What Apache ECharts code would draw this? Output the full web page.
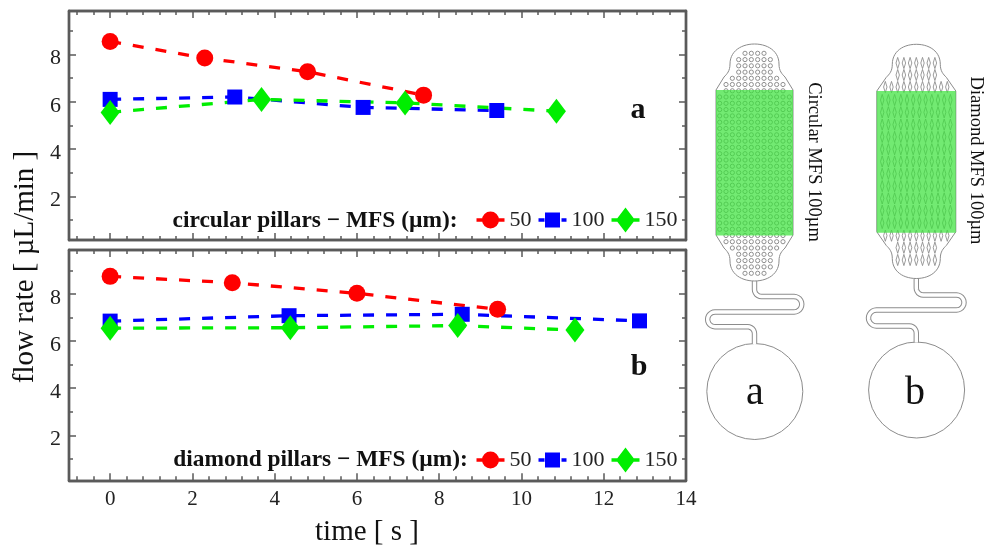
<!DOCTYPE html>
<html><head><meta charset="utf-8">
<style>html,body{margin:0;padding:0;background:#fff}#c{width:985px;height:547px}</style>
<script src="https://cdn.jsdelivr.net/npm/echarts@6/dist/echarts.min.js"></script>
</head><body><div id="c"></div>
<script>
const xMajor = [0, 2, 4, 6, 8, 10, 12, 14];
const xMinor = [-0.8, -0.4, 0.4, 0.8, 1.2, 1.6, 2.4, 2.8, 3.2, 3.6, 4.4, 4.8, 5.2, 5.6, 6.4, 6.8, 7.2, 7.6, 8.4, 8.8, 9.2, 9.6, 10.4, 10.8, 11.2, 11.6, 12.4, 12.8, 13.2, 13.6];
const yMajor = [2, 4, 6, 8];
const yMinor = [1, 3, 5, 7, 9];

const legendNames = ['50', '100', '150'];
const circular50 = [[0, 8.55], [2.3, 7.85], [4.8, 7.27], [7.62, 6.28]];
const circular100 = [[0, 6.1], [3.03, 6.2], [6.15, 5.76], [9.4, 5.63]];
const circular150 = [[0, 5.55], [3.68, 6.1], [7.17, 5.95], [10.85, 5.6]];
const diamond50 = [[0, 8.75], [2.97, 8.48], [6.0, 8.03], [9.42, 7.35]];
const diamond100 = [[0, 6.85], [4.35, 7.08], [8.56, 7.14], [12.87, 6.86]];
const diamond150 = [[0, 6.55], [4.38, 6.57], [8.45, 6.66], [11.3, 6.47]];

const SERIF = '"Liberation Serif","Times New Roman",serif';
const AX = '#5a5a5a';
const GRAY = '#8c8c8c';

function xAxes(gridIndex, withLabels, min, max) {
  const one = (position, vals, len, labels) => ({
    type: 'value', gridIndex, position, min, max,
    splitLine: { show: false },
    axisLine: { show: true, onZero: false, lineStyle: { color: AX, width: 2.4 } },
    axisTick: { show: true, inside: true, customValues: vals, length: len, lineStyle: { color: AX, width: 1.5 } },
    axisLabel: labels
      ? { show: true, customValues: xMajor, margin: 9, color: '#222', fontFamily: SERIF, fontSize: 21 }
      : { show: false }
  });
  return [one('bottom', xMajor, 7, withLabels), one('top', xMajor, 7, false),
          one('bottom', xMinor, 4, false), one('top', xMinor, 4, false)];
}
function yAxes(gridIndex, min, max) {
  const one = (position, vals, len, labels) => ({
    type: 'value', gridIndex, position, min, max,
    splitLine: { show: false },
    axisLine: { show: true, onZero: false, lineStyle: { color: AX, width: 2.4 } },
    axisTick: { show: true, inside: true, customValues: vals, length: len, lineStyle: { color: AX, width: 1.5 } },
    axisLabel: labels
      ? { show: true, customValues: yMajor, margin: 8, formatter: '{n|{value}}',
          rich: { n: { color: '#222', fontFamily: SERIF, fontSize: 22, padding: [8, 0, 0, 0] } } }
      : { show: false }
  });
  return [one('left', yMajor, 7, true), one('right', yMajor, 7, false),
          one('left', yMinor, 4, false), one('right', yMinor, 4, false)];
}

const X_MIN = -1, X_MAX = 14;
const xAxis = [...xAxes(0, false, X_MIN, X_MAX), ...xAxes(1, true, X_MIN, X_MAX)];
const yAxis = [...yAxes(0, 0.15, 9.84), ...yAxes(1, 0.09, 9.87)];

function lineSeries(name, data, color, symbol, size, panel) {
  return {
    type: 'line', name, data, symbol, symbolSize: size,
    xAxisIndex: panel * 4, yAxisIndex: panel * 4,
    itemStyle: { color },
    lineStyle: { color, width: 3.3, type: [11, 12] },
    animation: false, silent: true
  };
}
const series = [
  lineSeries('50', circular50, '#ff0000', 'circle', 17, 0),
  lineSeries('100', circular100, '#0000ff', 'rect', 15, 0),
  lineSeries('150', circular150, '#00ee00', 'diamond', [19, 25], 0),
  lineSeries('50', diamond50, '#ff0000', 'circle', 17, 1),
  lineSeries('100', diamond100, '#0000ff', 'rect', 15, 1),
  lineSeries('150', diamond150, '#00ee00', 'diamond', [19, 25], 1)
];

// legend keys: line + marker in a 28x25 box (corner points fix the path's bounding box)
const BOX = 'M0 0L0 0.01L0.01 0Z M28 25L28 24.99L27.99 25Z ';
const STUBS = 'M0 10.85H7V14.15H0Z M21 10.85H28V14.15H21Z ';
const legendIcons = [
  'path://' + BOX + STUBS + 'M5.5 12.5A8.5 8.5 0 1 1 22.5 12.5A8.5 8.5 0 1 1 5.5 12.5Z',
  'path://' + BOX + 'M0 10.85H6V14.15H0Z M23 10.85H28V14.15H23Z M6.5 5H21.5V20H6.5Z',
  'path://' + BOX + STUBS + 'M4.5 12.5L14 0L23.5 12.5L14 25Z'
];
function legendAt(top) {
  return {
    left: 476.5, top, padding: 0, orient: 'horizontal',
    data: legendNames.map((name, i) => ({ name, icon: legendIcons[i] })),
    itemWidth: 28, itemHeight: 25, itemGap: 7,
    selectedMode: false, inactiveColor: '#000',
    textStyle: { fontFamily: SERIF, fontSize: 22, color: '#222' }
  };
}

/* ---------- device schematics, drawn as an illustration ---------- */
function bez(p0, p1, p2, p3, n) {
  const out = [];
  for (let i = 1; i <= n; i++) {
    const t = i / n, u = 1 - t;
    out.push([
      u*u*u*p0[0] + 3*u*u*t*p1[0] + 3*u*t*t*p2[0] + t*t*t*p3[0],
      u*u*u*p0[1] + 3*u*u*t*p1[1] + 3*u*t*t*p2[1] + t*t*t*p3[1]
    ]);
  }
  return out;
}
function arcPts(cx, cy, r, a0, a1, n) {
  const out = [];
  for (let i = 0; i <= n; i++) {
    const a = (a0 + (a1 - a0) * i / n) * Math.PI / 180;
    out.push([cx + r * Math.cos(a), cy + r * Math.sin(a)]);
  }
  return out;
}
function outline(cx, top, bottom, greenTop, greenBottom, hw, hb) {
  const half = [[0, top]];
  half.push(...bez([0, top], [13, top], [hb, top + 7], [hb, top + 20], 14));
  half.push(...bez([hb, top + 20], [hb, top + 27], [hb + 3, top + 30], [hb + 6, top + 33], 8));
  half.push([hw, greenTop]);
  const right = half.map(p => [cx + p[0], p[1]]);
  const mid = (top + bottom) / 2;
  const rightBottom = half.slice().reverse().map(p => [cx + p[0], 2 * mid - p[1]]);
  const leftBottom = half.map(p => [cx - p[0], 2 * mid - p[1]]);
  const leftTop = half.slice().reverse().map(p => [cx - p[0], p[1]]);
  return [...right, ...rightBottom, ...leftBottom, ...leftTop];
}
function channel(cx, y0, y1, y2, y3, yEnd, xR, xL, rR, rL) {
  const pts = [[cx, y0], [cx, y1 - 7]];
  pts.push(...arcPts(cx + 7, y1 - 7, 7, 180, 90, 6));
  pts.push([xR, y1]);
  pts.push(...arcPts(xR, (y1 + y2) / 2, rR, -90, 90, 12));
  pts.push([xL, y2]);
  pts.push(...arcPts(xL, (y2 + y3) / 2, rL, 270, 90, 12));
  pts.push([cx - 7, y3]);
  pts.push(...arcPts(cx - 7, y3 + 7, 7, -90, 0, 6));
  pts.push([cx, yEnd]);
  return pts;
}
const GREEN_FILL = 'rgba(60,226,60,0.72)';
function device(cfg) {
  const els = [];
  els.push({ type: 'circle', silent: true, shape: { cx: cfg.cx + 0.3, cy: cfg.circleY, r: 48 }, style: { fill: '#fff', stroke: GRAY, lineWidth: 1 } });
  const ch = channel(cfg.cx, cfg.bottom - 1, cfg.ch[0], cfg.ch[1], cfg.ch[2], cfg.circleY - 47.5, cfg.xR, cfg.xL, (cfg.ch[1] - cfg.ch[0]) / 2, (cfg.ch[2] - cfg.ch[1]) / 2);
  els.push({ type: 'polyline', silent: true, shape: { points: ch }, style: { fill: null, stroke: GRAY, lineWidth: 5.4 } });
  els.push({ type: 'polyline', silent: true, shape: { points: ch }, style: { fill: null, stroke: '#fff', lineWidth: 3.4 } });
  els.push({ type: 'polygon', silent: true, shape: { points: outline(cfg.cx, cfg.top, cfg.bottom, cfg.gTop, cfg.gBot, cfg.hw, cfg.hb) }, style: { fill: '#fff', stroke: GRAY, lineWidth: 1 } });
  cfg.rows.forEach(([y, cols]) => {
    for (let i = 0; i < cols; i++) {
      const x = cfg.cx + (i - (cols - 1) / 2) * cfg.pitch;
      if (cfg.kind === 'circle') {
        els.push({ type: 'circle', silent: true, shape: { cx: x, cy: y, r: 2.1 }, style: { fill: 'none', stroke: '#8f8f8f', lineWidth: 1 } });
      } else {
        els.push({ type: 'polygon', silent: true, shape: { points: [[x, y - 5.6], [x + 1.7, y], [x, y + 5.6], [x - 1.7, y]] }, style: { fill: 'none', stroke: '#8a8a8a', lineWidth: 0.85 } });
      }
    }
  });
  els.push({ type: 'rect', silent: true, shape: { x: cfg.cx - cfg.hw, y: cfg.gTop, width: 2 * cfg.hw, height: cfg.gBot - cfg.gTop }, style: { fill: GREEN_FILL } });
  return els;
}
const circleRows = [[53.3,4],[59.6,6],[65.8,6],[72.1,6],[78.3,8],[84.5,10],[90.8,10]];
for (let k = 0; k < 22; k++) circleRows.push([97 + k * 6.3, 12]);
circleRows.push([235.5,10],[241.7,10],[248,8],[254.3,6],[260.6,6],[266.9,6],[273.3,4]);
const diamondRows = [[63,7],[75,7],[87,11]];
for (let k = 0; k < 11; k++) diamondRows.push([100 + k * 12.3, 12]);
diamondRows.push([235.7,11],[247.7,7],[260,7]);

const schematics = [
  ...device({ kind: 'circle', cx: 754.5, top: 44, bottom: 281, gTop: 90, gBot: 235.5, hw: 38.5, hb: 24.5,
    rows: circleRows, pitch: 6.33, circleY: 391.5,
    ch: [296.5, 312, 326.7], xR: 794, xL: 715 }),
  ...device({ kind: 'diamond', cx: 916.3, top: 44.3, bottom: 278.5, gTop: 91, gBot: 232.7, hw: 39.5, hb: 24,
    rows: diamondRows, pitch: 6.2, circleY: 390,
    ch: [295, 310, 326], xR: 956.5, xL: 876.5 })
];

function txt(text, x, y, font, extra) {
  return Object.assign({ type: 'text', silent: true, x, y, style: { text, font, fill: '#111', textAlign: 'center', textVerticalAlign: 'middle' } }, extra || {});
}
const textEls = [
  txt('flow rate [ µL/min ]', 25, 267, '29px ' + SERIF, { rotation: Math.PI / 2 }),
  txt('time [ s ]', 367, 532, '29px ' + SERIF),
  txt('circular pillars − MFS (µm):', 315, 221, 'bold 23.4px ' + SERIF),
  txt('diamond pillars − MFS (µm):', 320.5, 460, 'bold 23.4px ' + SERIF),
  txt('a', 638, 110, 'bold 30px ' + SERIF),
  txt('b', 639, 367, 'bold 30px ' + SERIF),
  txt('Circular MFS 100µm', 814, 162, '18.5px ' + SERIF, { rotation: -Math.PI / 2 }),
  txt('Diamond MFS 100µm', 976, 160.5, '18.5px ' + SERIF, { rotation: -Math.PI / 2 }),
  txt('a', 755, 393, '40px ' + SERIF),
  txt('b', 915, 393, '40px ' + SERIF)
];

const chart = echarts.init(document.getElementById('c'), null, { renderer: 'canvas' });
chart.setOption({
  animation: false,
  backgroundColor: '#fff',
  grid: [
    { left: 69, top: 11, width: 617, height: 229 },
    { left: 69, top: 250, width: 617, height: 230.3 }
  ],
  xAxis, yAxis, series,
  legend: [legendAt(207.5), legendAt(447.5)],
  graphic: { elements: [...schematics, ...textEls] }
});
</script></body></html>
